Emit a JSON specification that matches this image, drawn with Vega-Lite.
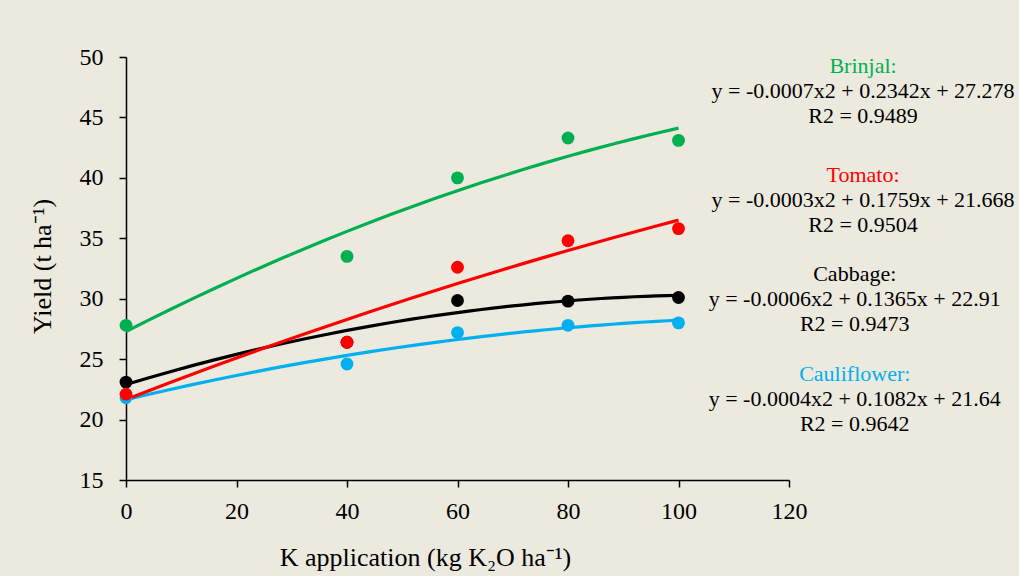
{
  "$schema": "https://vega.github.io/schema/vega-lite/v6.json",
  "width": 663,
  "height": 423,
  "autosize": {"type": "none"},
  "padding": {"left": 126, "top": 57, "right": 230, "bottom": 96},
  "background": "#ECE9DF",
  "datasets": {
    "obs": [
      {"crop": "Brinjal", "k": 0, "yield": 27.8},
      {"crop": "Brinjal", "k": 40, "yield": 33.5},
      {"crop": "Brinjal", "k": 60, "yield": 40.0},
      {"crop": "Brinjal", "k": 80, "yield": 43.3},
      {"crop": "Brinjal", "k": 100, "yield": 43.1},
      {"crop": "Cauliflower", "k": 0, "yield": 21.8},
      {"crop": "Cauliflower", "k": 40, "yield": 24.6},
      {"crop": "Cauliflower", "k": 60, "yield": 27.2},
      {"crop": "Cauliflower", "k": 80, "yield": 27.8},
      {"crop": "Cauliflower", "k": 100, "yield": 28.0},
      {"crop": "Cabbage", "k": 0, "yield": 23.1},
      {"crop": "Cabbage", "k": 40, "yield": 26.4},
      {"crop": "Cabbage", "k": 60, "yield": 29.85},
      {"crop": "Cabbage", "k": 80, "yield": 29.8},
      {"crop": "Cabbage", "k": 100, "yield": 30.1},
      {"crop": "Tomato", "k": 0, "yield": 22.1},
      {"crop": "Tomato", "k": 40, "yield": 26.4},
      {"crop": "Tomato", "k": 60, "yield": 32.6},
      {"crop": "Tomato", "k": 80, "yield": 34.8},
      {"crop": "Tomato", "k": 100, "yield": 35.8}
    ],
    "notes": [
      {"crop": "Brinjal", "kind": "name", "text": "Brinjal:", "ax": 133.4, "ay": 48.68},
      {"crop": "Brinjal", "kind": "eq", "text": "y = -0.0007x2 + 0.2342x + 27.278", "ax": 133.4, "ay": 46.61},
      {"crop": "Brinjal", "kind": "eq", "text": "R2 = 0.9489", "ax": 133.4, "ay": 44.54},
      {"crop": "Tomato", "kind": "name", "text": "Tomato:", "ax": 133.4, "ay": 39.66},
      {"crop": "Tomato", "kind": "eq", "text": "y = -0.0003x2 + 0.1759x + 21.668", "ax": 133.4, "ay": 37.59},
      {"crop": "Tomato", "kind": "eq", "text": "R2 = 0.9504", "ax": 133.4, "ay": 35.52},
      {"crop": "Cabbage", "kind": "name", "text": "Cabbage:", "ax": 131.9, "ay": 31.47},
      {"crop": "Cabbage", "kind": "eq", "text": "y = -0.0006x2 + 0.1365x + 22.91", "ax": 131.9, "ay": 29.40},
      {"crop": "Cabbage", "kind": "eq", "text": "R2 = 0.9473", "ax": 131.9, "ay": 27.33},
      {"crop": "Cauliflower", "kind": "name", "text": "Cauliflower:", "ax": 131.9, "ay": 23.19},
      {"crop": "Cauliflower", "kind": "eq", "text": "y = -0.0004x2 + 0.1082x + 21.64", "ax": 131.9, "ay": 21.12},
      {"crop": "Cauliflower", "kind": "eq", "text": "R2 = 0.9642", "ax": 131.9, "ay": 19.05}
    ]
  },
  "layer": [
    {
      "data": {"name": "obs"},
      "transform": [
        {"regression": "yield", "on": "k", "groupby": ["crop"], "method": "poly", "order": 2, "extent": [0, 100]}
      ],
      "mark": {"type": "line", "strokeWidth": 3.2},
      "encoding": {
        "x": {"field": "k", "type": "quantitative", "scale": {"domain": [0, 120], "nice": false, "zero": false},
              "axis": {"title": "K application (kg K₂O ha⁻¹)", "values": [0, 20, 40, 60, 80, 100, 120], "labelFlush": false, "labelOverlap": false,
                       "labelBaseline": "alphabetic", "labelPadding": 31, "titleX": 299, "titleY": 85, "titleBaseline": "alphabetic", "titleAlign": "center",
                       "labelFont": "Liberation Serif", "titleFont": "Liberation Serif", "labelFontSize": 24, "titleFontSize": 26, "titleFontWeight": "normal", "labelColor": "#000000", "titleColor": "#000000"}},
        "y": {"field": "yield", "type": "quantitative", "scale": {"domain": [15, 50], "nice": false, "zero": false},
              "axis": {"title": "Yield (t ha⁻¹)", "values": [15, 20, 25, 30, 35, 40, 45, 50], "labelFlush": false, "labelOverlap": false,
                       "labelPadding": 16, "titleX": -76, "titleY": 209, "titleBaseline": "alphabetic", "titleAlign": "center", "titleAngle": -90,
                       "labelFont": "Liberation Serif", "titleFont": "Liberation Serif", "labelFontSize": 24, "titleFontSize": 26, "titleFontWeight": "normal", "labelColor": "#000000", "titleColor": "#000000"}},
        "color": {"field": "crop", "type": "nominal", "legend": null,
                  "scale": {"domain": ["Brinjal", "Tomato", "Cabbage", "Cauliflower"], "range": ["#00B050", "#FF0000", "#000000", "#00B0F0"]}}
      }
    },
    {
      "data": {"name": "obs"},
      "mark": {"type": "circle", "size": 165, "opacity": 1},
      "encoding": {
        "x": {"field": "k", "type": "quantitative"},
        "y": {"field": "yield", "type": "quantitative"},
        "color": {"field": "crop", "type": "nominal", "legend": null}
      }
    },
    {
      "data": {"name": "notes"},
      "transform": [{"filter": "datum.kind === 'name'"}],
      "mark": {"type": "text", "font": "Liberation Serif", "fontSize": 22, "align": "center", "baseline": "alphabetic"},
      "encoding": {
        "x": {"field": "ax", "type": "quantitative"},
        "y": {"field": "ay", "type": "quantitative"},
        "text": {"field": "text"},
        "color": {"field": "crop", "type": "nominal", "legend": null}
      }
    },
    {
      "data": {"name": "notes"},
      "transform": [{"filter": "datum.kind === 'eq'"}],
      "mark": {"type": "text", "font": "Liberation Serif", "fontSize": 22, "align": "center", "baseline": "alphabetic", "color": "#000000"},
      "encoding": {
        "x": {"field": "ax", "type": "quantitative"},
        "y": {"field": "ay", "type": "quantitative"},
        "text": {"field": "text"}
      }
    }
  ],
  "config": {
    "view": {"stroke": null},
    "font": "Liberation Serif",
    "axis": {
      "grid": false,
      "domainColor": "#000000",
      "tickColor": "#000000",
      "labelColor": "#000000",
      "titleColor": "#000000",
      "labelFont": "Liberation Serif",
      "titleFont": "Liberation Serif",
      "labelFontSize": 24,
      "titleFontSize": 26,
      "titleFontWeight": "normal",
      "tickSize": 7,
      "domainWidth": 1.5,
      "tickWidth": 1.5
    }
  }
}
